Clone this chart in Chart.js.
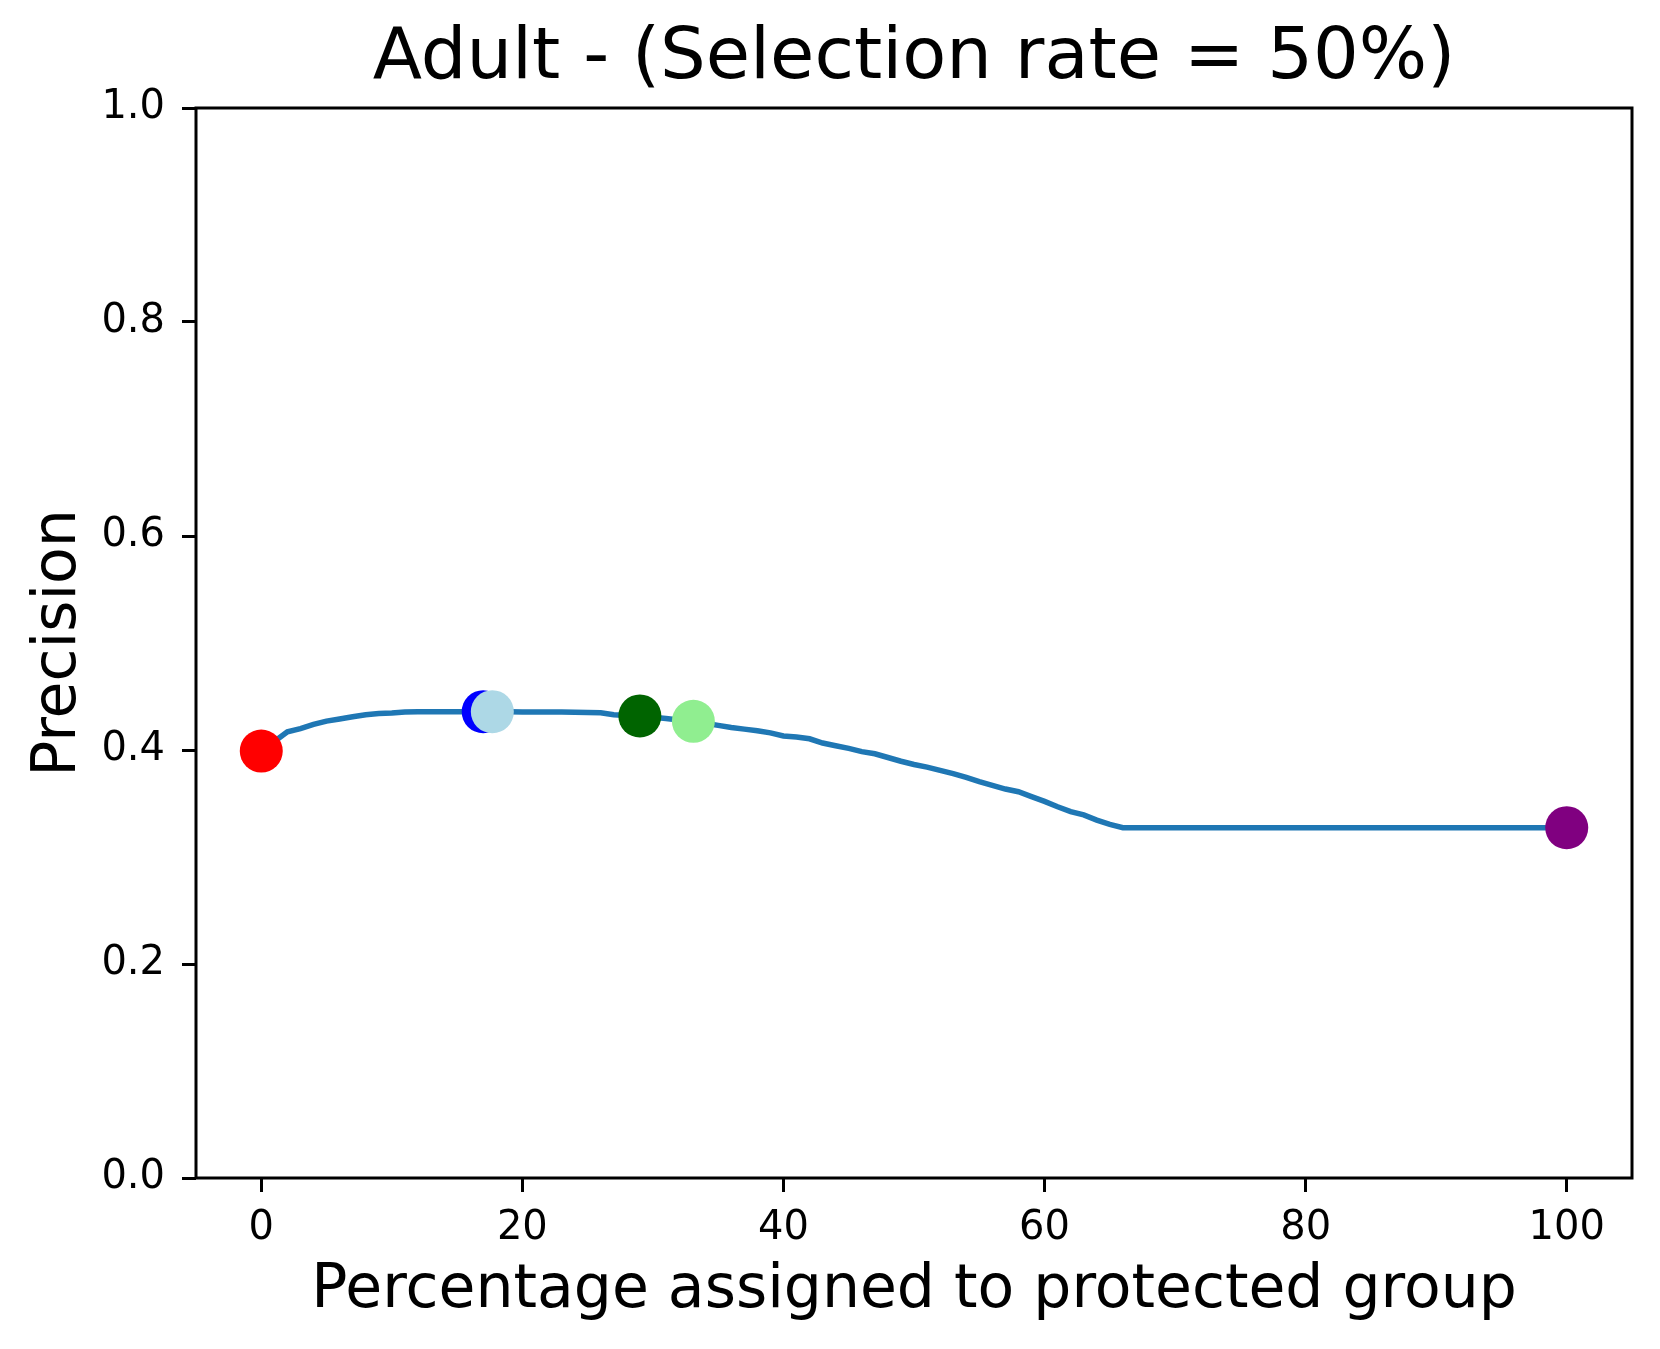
<!DOCTYPE html>
<html>
<head>
<meta charset="utf-8">
<title>Adult - Precision</title>
<script src="https://cdn.jsdelivr.net/npm/chart.js@4.4.1/dist/chart.umd.min.js"></script>
<style>
  html, body { margin: 0; padding: 0; background: #fff; }
  canvas { display: block; }
</style>
</head>
<body>
<canvas id="chart" width="1660" height="1349"></canvas>
<script>
// curve: percentage assigned to protected group -> precision
const pctAssigned = [
  0, 1, 2, 3, 4, 5, 6, 7, 8, 9, 10, 11, 12, 13, 14, 15, 16, 17, 18, 19, 20,
  21, 22, 23, 24, 25, 26, 27, 28, 29, 30, 31, 32, 33, 34, 35, 36, 37, 38, 39, 40,
  41, 42, 43, 44, 45, 46, 47, 48, 49, 50, 51, 52, 53, 54, 55, 56, 57, 58, 59, 60,
  61, 62, 63, 64, 65, 66, 100
];
const precision = [
  0.399, 0.408, 0.417, 0.420, 0.424, 0.427, 0.429, 0.431, 0.433, 0.434, 0.4345,
  0.4355, 0.4357, 0.4358, 0.4358, 0.4358, 0.4358, 0.4358, 0.4358, 0.4357, 0.4356,
  0.4355, 0.4355, 0.4354, 0.4352, 0.4350, 0.4348, 0.4330, 0.4322, 0.4315, 0.4305,
  0.4295, 0.4280, 0.4265, 0.4250, 0.4230, 0.4210, 0.4195, 0.4180, 0.4160, 0.4131,
  0.4122, 0.4105, 0.4065, 0.4040, 0.4015, 0.3985, 0.3965, 0.3930, 0.3895, 0.3865,
  0.3840, 0.3810, 0.3780, 0.3745, 0.3705, 0.3670, 0.3635, 0.3610, 0.3565, 0.3520,
  0.3470, 0.3424, 0.3393, 0.3345, 0.3305, 0.3274, 0.3274
];

// highlighted points
const markerX = [0, 17.0, 17.7, 29.0, 33.1, 100];
const markerY = [0.399, 0.4358, 0.4358, 0.4318, 0.4268, 0.3274];
const markerColors = ["#ff0000", "#0000ff", "#add8e6", "#006400", "#90ee90", "#800080"];

// tick labels
const xTicks = [0, 20, 40, 60, 80, 100];
const yTicks = [0, 0.2, 0.4, 0.6, 0.8, 1.0];

Chart.defaults.font.family = "'DejaVu Sans', sans-serif";
Chart.defaults.color = "#000";

// full box around the plot area, like matplotlib spines
const frame = {
  id: "frame",
  afterDatasetsDraw(chart) {
    const { ctx, chartArea: a } = chart;
    ctx.save();
    ctx.strokeStyle = "#000";
    ctx.lineWidth = 3;
    ctx.strokeRect(a.left, a.top, a.right - a.left, a.bottom - a.top);
    ctx.restore();
  },
};

const ctx = document.getElementById("chart").getContext("2d");

new Chart(ctx, {
  data: {
    datasets: [
      {
        type: "scatter",
        label: "markers",
        data: markerX.map((x, i) => ({ x: x, y: markerY[i] })),
        pointBackgroundColor: markerColors,
        pointBorderWidth: 0,
        pointRadius: 21.5,
        pointHoverRadius: 21.5,
        clip: false,
        order: 0,
      },
      {
        type: "line",
        label: "precision",
        data: pctAssigned.map((x, i) => ({ x: x, y: precision[i] })),
        borderColor: "#1f77b4",
        borderWidth: 5.5,
        pointRadius: 0,
        tension: 0,
        fill: false,
        order: 1,
      },
    ],
  },
  options: {
    responsive: false,
    devicePixelRatio: 1,
    animation: false,
    events: [],
    layout: { padding: { left: 0, right: 28, top: 0, bottom: 0 } },
    plugins: {
      legend: { display: false },
      tooltip: { enabled: false },
      title: {
        display: true,
        fullSize: false,
        text: "Adult - (Selection rate = 50%)",
        font: { size: 72, weight: "normal", lineHeight: 1.1 },
        color: "#000",
        padding: { top: 20, bottom: 8.8 },
      },
    },
    scales: {
      x: {
        type: "linear",
        min: -5,
        max: 105,
        afterBuildTicks: (s) => { s.ticks = xTicks.map((v) => ({ value: v })); },
        afterFit: (s) => { s.height = 171; },
        ticks: { font: { size: 40 }, color: "#000", padding: 13 },
        grid: {
          display: true,
          drawOnChartArea: false,
          drawTicks: true,
          tickLength: 14,
          tickWidth: 3,
          tickColor: "#000",
        },
        border: { display: false },
        title: {
          display: true,
          text: "Percentage assigned to protected group",
          font: { size: 60 },
          color: "#000",
          padding: { top: 0, bottom: 22 },
        },
      },
      y: {
        type: "linear",
        min: 0,
        max: 1,
        afterBuildTicks: (s) => { s.ticks = yTicks.map((v) => ({ value: v })); },
        afterFit: (s) => { s.width = 196; },
        ticks: {
          font: { size: 40 },
          color: "#000",
          padding: 17,
          callback: (v) => Number(v).toFixed(1),
        },
        grid: {
          display: true,
          drawOnChartArea: false,
          drawTicks: true,
          tickLength: 14,
          tickWidth: 3,
          tickColor: "#000",
        },
        border: { display: false },
        title: {
          display: true,
          text: "Precision",
          font: { size: 60 },
          color: "#000",
          padding: { top: 23, bottom: 0 },
        },
      },
    },
  },
  plugins: [frame],
});
</script>
</body>
</html>
